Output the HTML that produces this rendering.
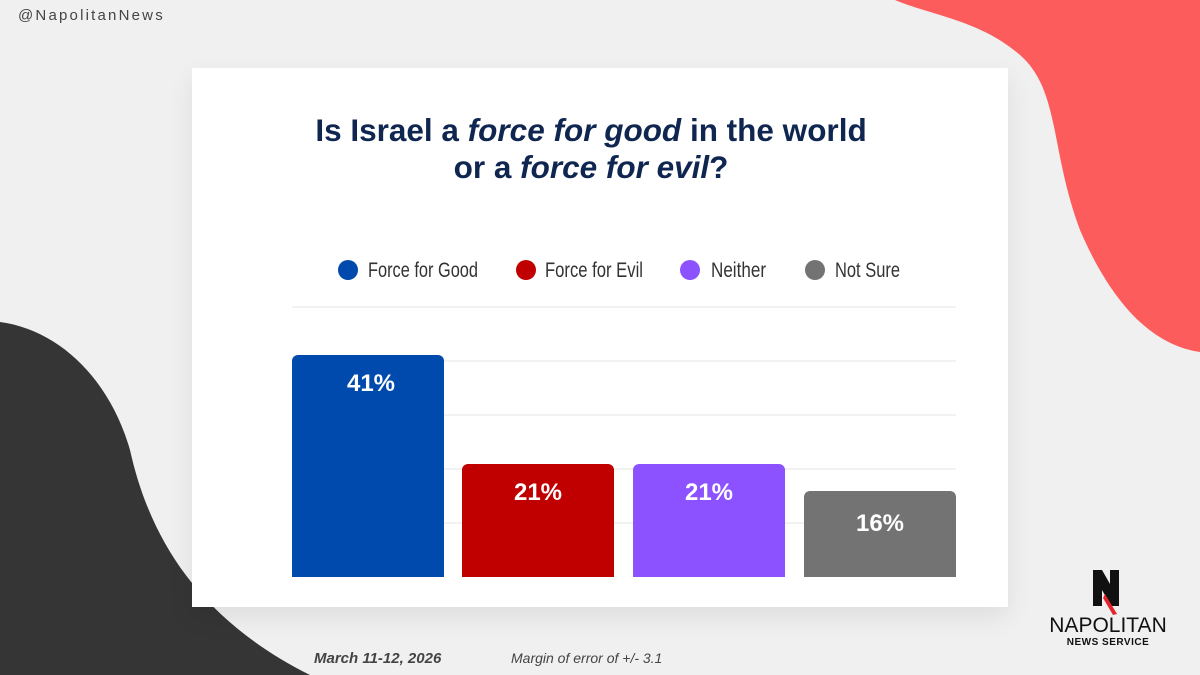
<!DOCTYPE html>
<html><head><style>
body{margin:0;width:1200px;height:675px;background:#f0f0f0;position:relative;overflow:hidden;font-family:"Liberation Sans",sans-serif}
.abs{position:absolute}
</style></head><body>
<svg class="abs" style="left:0;top:0" width="1200" height="675">
<path d="M895,0 L1200,0 L1200,352 C1150,345 1110,300 1080,230 C1050,150 1060,90 1020,55 C980,20 930,15 895,0 Z" fill="#fd5c5c"/>
<path d="M0,322 C60,330 110,380 130,450 C150,540 200,620 310,675 L0,675 Z" fill="#353535"/>
</svg>
<div class="abs" style="left:18px;top:7px;font-size:15px;letter-spacing:2.2px;color:#444">@NapolitanNews</div>
<div class="abs" style="left:192px;top:68px;width:816px;height:539px;background:#fff;box-shadow:0 10px 25px rgba(0,0,0,0.08)"></div>
<div class="abs" style="left:183px;top:112px;width:816px;text-align:center;font-size:31.5px;font-weight:bold;color:#0f2650;line-height:37px">Is Israel a <i>force for good</i> in the world<br>or a <i>force for evil</i>?</div>
<svg class="abs" style="left:0;top:0" width="1200" height="675" font-family="Liberation Sans, sans-serif">
<g fill="#333" font-size="21">
<circle cx="348" cy="270" r="10" fill="#004aad"/><text x="368" y="277" textLength="110" lengthAdjust="spacingAndGlyphs">Force for Good</text>
<circle cx="526" cy="270" r="10" fill="#c00000"/><text x="545" y="277" textLength="98" lengthAdjust="spacingAndGlyphs">Force for Evil</text>
<circle cx="690" cy="270" r="10" fill="#8c52ff"/><text x="711" y="277" textLength="55" lengthAdjust="spacingAndGlyphs">Neither</text>
<circle cx="815" cy="270" r="10" fill="#737373"/><text x="835" y="277" textLength="65" lengthAdjust="spacingAndGlyphs">Not Sure</text>
</g>
<g stroke="#e6e6e6" stroke-width="1">
<line x1="292" x2="956" y1="307" y2="307"/><line x1="292" x2="956" y1="361" y2="361"/><line x1="292" x2="956" y1="415" y2="415"/><line x1="292" x2="956" y1="469" y2="469"/><line x1="292" x2="956" y1="523" y2="523"/>
</g>
<path d="M292,577V361a6,6 0 0 1 6,-6H438a6,6 0 0 1 6,6V577Z" fill="#004aad"/>
<path d="M462,577V470a6,6 0 0 1 6,-6H608a6,6 0 0 1 6,6V577Z" fill="#c00000"/>
<path d="M633,577V470a6,6 0 0 1 6,-6H779a6,6 0 0 1 6,6V577Z" fill="#8c52ff"/>
<path d="M804,577V497a6,6 0 0 1 6,-6H950a6,6 0 0 1 6,6V577Z" fill="#737373"/>
<g fill="#fff" font-size="24" font-weight="bold" text-anchor="middle">
<text x="371" y="391">41%</text><text x="538" y="500">21%</text><text x="709" y="500">21%</text><text x="880" y="531">16%</text>
</g>
<g transform="translate(1093,570)">
<path d="M0,0H9L17,14V0H26V36H18L9,20V36H0Z" fill="#111"/>
<path d="M12,24L24,44L20,45L10,28Z" fill="#e3242b"/>
</g>
<text x="1108" y="632" text-anchor="middle" font-size="21" fill="#111">NAPOLITAN</text>
<text x="1108" y="645" text-anchor="middle" font-size="10" font-weight="bold" fill="#111" letter-spacing="0.5">NEWS SERVICE</text>
<text x="314" y="663" font-size="15" font-weight="bold" font-style="italic" fill="#444">March 11-12, 2026</text>
<text x="511" y="663" font-size="14" font-style="italic" fill="#444">Margin of error of +/- 3.1</text>
</svg>
</body></html>
